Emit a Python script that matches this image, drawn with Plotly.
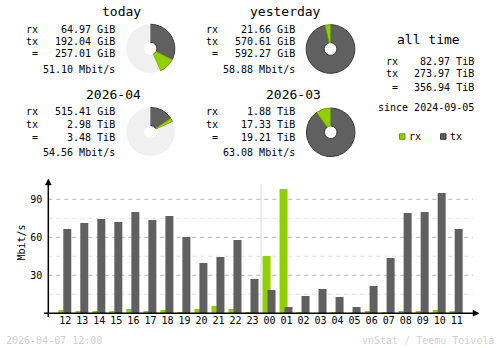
import plotly.graph_objects as go

W, H = 500, 348
FONT = "DejaVu Sans Mono"
RX_COLOR = "#92cf00"
TX_COLOR = "#606060"
RX_EDGE = "#6b9a00"
TX_EDGE = "#3a3a3a"
PIE_BG = "#f0f0f0"

# ---- hourly traffic (Mbit/s), last 24 hours ----
hours = ["12", "13", "14", "15", "16", "17", "18", "19", "20", "21", "22", "23",
         "00", "01", "02", "03", "04", "05", "06", "07", "08", "09", "10", "11"]
rx_mbit = [2.6, 1.8, 1.8, 1.8, 3.4, 1.8, 2.6, 1.0, 3.4, 5.8, 3.4, 1.0,
           45.3, 98.2, 1.0, 0.0, 1.0, 0.0, 1.8, 1.0, 1.8, 1.8, 2.6, 1.8]
tx_mbit = [66.6, 71.3, 74.5, 72.1, 80.0, 73.7, 76.8, 60.3, 39.7, 44.5, 57.9, 27.1,
           18.4, 5.0, 13.7, 19.2, 12.9, 5.0, 21.6, 43.7, 79.2, 80.0, 95.0, 66.6]
y_major = [30, 60, 90]
y_minor = [15, 45, 75]

# ---- summary blocks ----
today = {"title": "today", "rx": 64.97, "tx": 192.04, "unit": "GiB", "rate": "51.10 Mbit/s"}
yesterday = {"title": "yesterday", "rx": 21.66, "tx": 570.61, "unit": "GiB", "rate": "58.88 Mbit/s"}
month_cur = {"title": "2026-04", "rx": 515.41 / 1024, "tx": 2.98, "unit": "TiB", "rate": "54.56 Mbit/s",
             "rx_text": "515.41 GiB"}
month_prev = {"title": "2026-03", "rx": 1.88, "tx": 17.33, "unit": "TiB", "rate": "63.08 Mbit/s"}
all_time = {"rx": 82.97, "tx": 273.97, "total": 356.94, "unit": "TiB", "since": "2024-09-05"}
stamp = "2026-04-07 12:00"
credit = "vnStat / Teemu Toivola"


def px(x):
    return x / W


def py(y):
    return 1 - y / H


annotations = []


def text(x, y, s, size=10, anchor="left", color="#000000", angle=0):
    annotations.append(dict(
        x=px(x), y=py(y), xref="paper", yref="paper", text=s, showarrow=False,
        xanchor=anchor, yanchor="middle", textangle=angle, borderpad=0,
        font=dict(family=FONT, size=size, color=color)))


fig = go.Figure()


def summary_block(d, left, right, title_right, rows, cx, cy, ref=None):
    title_y, rx_y, tx_y, eq_y, rate_y = rows
    total = d["rx"] + d["tx"]
    text(title_right, title_y, d["title"], size=13, anchor="right")
    text(left, rx_y, "rx")
    text(left, tx_y, "tx")
    text(left + 6, eq_y, "=")
    text(right, rx_y, d.get("rx_text", f"{d['rx']:.2f} {d['unit']}"), anchor="right")
    text(right, tx_y, f"{d['tx']:.2f} {d['unit']}", anchor="right")
    text(right, eq_y, f"{total:.2f} {d['unit']}", anchor="right")
    text(right, rate_y, d["rate"], anchor="right")
    rest = 0.0
    if ref is not None:
        rest = max(ref["rx"] + ref["tx"] - total, 0.0)
    r = 24.3
    fig.add_trace(go.Pie(
        values=[d["tx"], d["rx"], rest],
        marker=dict(colors=[TX_COLOR, RX_COLOR, PIE_BG],
                    line=dict(color=[TX_EDGE, RX_EDGE, PIE_BG], width=[1, 1, 0])),
        hole=0.26, sort=False, direction="clockwise", rotation=0,
        textinfo="none", hoverinfo="skip", showlegend=False,
        domain=dict(x=[px(cx - r), px(cx + r)], y=[py(cy + r), py(cy - r)])))


upper = (11, 29, 41, 54, 69)
lower = (94.3, 111.5, 124.2, 137.2, 152.2)
summary_block(today, 25, 116, 142, upper, 150.5, 48.6, ref=yesterday)
summary_block(yesterday, 205, 296, 322, upper, 330.5, 49.0)
summary_block(month_cur, 25, 116, 142, lower, 150.5, 131.8, ref=month_prev)
summary_block(month_prev, 205, 296, 322, lower, 330.7, 132.3)

# all time block
text(428.5, 40, "all time", size=13, anchor="center")
text(385, 62, "rx")
text(385, 73.2, "tx")
text(391, 87.8, "=")
text(475, 62, f"{all_time['rx']:.2f} {all_time['unit']}", anchor="right")
text(475, 73.2, f"{all_time['tx']:.2f} {all_time['unit']}", anchor="right")
text(475, 87.8, f"{all_time['total']:.2f} {all_time['unit']}", anchor="right")
text(475, 108, "since " + all_time["since"], anchor="right")

shapes = []
# legend
for x0, fill, edge, label in [(399.5, RX_COLOR, RX_EDGE, "rx"), (440.5, TX_COLOR, TX_EDGE, "tx")]:
    shapes.append(dict(type="rect", xref="paper", yref="paper",
                       x0=px(x0), x1=px(x0 + 5.5), y0=py(139.3), y1=py(133.8),
                       fillcolor=fill, line=dict(color=edge, width=1)))
    text(x0 + 8, 136.3, label)

# footer
text(5, 340, stamp, color="#d2d2d2")
text(495, 340, credit, anchor="right", color="#d2d2d2")
text(14, 243, "Mbit/s", angle=-90)

# ---- hourly bars ----
idx = list(range(len(hours)))
fig.add_trace(go.Bar(x=idx, y=rx_mbit, width=0.47, offset=-0.41,
                     marker=dict(color=RX_COLOR, line=dict(width=0)),
                     hoverinfo="skip", showlegend=False))
fig.add_trace(go.Bar(x=idx, y=tx_mbit, width=0.47, offset=-0.12,
                     marker=dict(color=TX_COLOR, line=dict(width=0)),
                     hoverinfo="skip", showlegend=False))

x_left, x_right = 48.3, 478.0
base_y, top_y = 313.3, 180.3

for v in y_major:
    shapes.append(dict(type="line", xref="paper", yref="y", x0=px(x_left), x1=px(473), y0=v, y1=v,
                       line=dict(color="#b4b4b4", width=1, dash="4px,4px"), layer="below"))
for v in y_minor:
    shapes.append(dict(type="line", xref="paper", yref="y", x0=px(x_left), x1=px(473), y0=v, y1=v,
                       line=dict(color="#e2e2e2", width=1, dash="4px,4px"), layer="below"))
# day boundary between 23 and 00
shapes.append(dict(type="line", xref="x", yref="y", x0=11.5, x1=11.5, y0=0, y1=102,
                   line=dict(color="#dadada", width=1), layer="below"))
# axes with arrow heads
shapes.append(dict(type="line", xref="paper", yref="paper", x0=px(44), x1=px(475), y0=py(base_y), y1=py(base_y),
                   line=dict(color="#000000", width=1.5)))
shapes.append(dict(type="line", xref="paper", yref="paper", x0=px(x_left), x1=px(x_left), y0=py(317), y1=py(183),
                   line=dict(color="#000000", width=1.5)))
shapes.append(dict(type="path", xref="paper", yref="paper",
                   path=f"M {px(x_left)} {py(179)} L {px(x_left - 3)} {py(185)} L {px(x_left + 3)} {py(185)} Z",
                   fillcolor="#000000", line=dict(color="#000000", width=0.5)))
shapes.append(dict(type="path", xref="paper", yref="paper",
                   path=f"M {px(479)} {py(base_y)} L {px(473)} {py(base_y - 3)} L {px(473)} {py(base_y + 3)} Z",
                   fillcolor="#000000", line=dict(color="#000000", width=0.5)))

fig.update_layout(
    width=W, height=H, margin=dict(l=0, r=0, t=0, b=0),
    paper_bgcolor="#ffffff", plot_bgcolor="#ffffff",
    barmode="overlay", showlegend=False, hovermode=False,
    annotations=annotations, shapes=shapes,
    xaxis=dict(domain=[px(x_left), px(x_right)], range=[-1, 24.25],
               tickmode="array", tickvals=idx, ticktext=hours,
               showgrid=False, zeroline=False, showline=False, ticks="",
               tickfont=dict(family=FONT, size=10, color="#000000")),
    yaxis=dict(domain=[py(base_y), py(top_y)], range=[0, 105],
               tickmode="array", tickvals=y_major, ticktext=[str(v) for v in y_major],
               showgrid=False, zeroline=False, showline=False, ticks="",
               ticklabelstandoff=5,
               tickfont=dict(family=FONT, size=10, color="#000000")),
)

fig.write_html("out.html", config={"displayModeBar": False, "staticPlot": True})
